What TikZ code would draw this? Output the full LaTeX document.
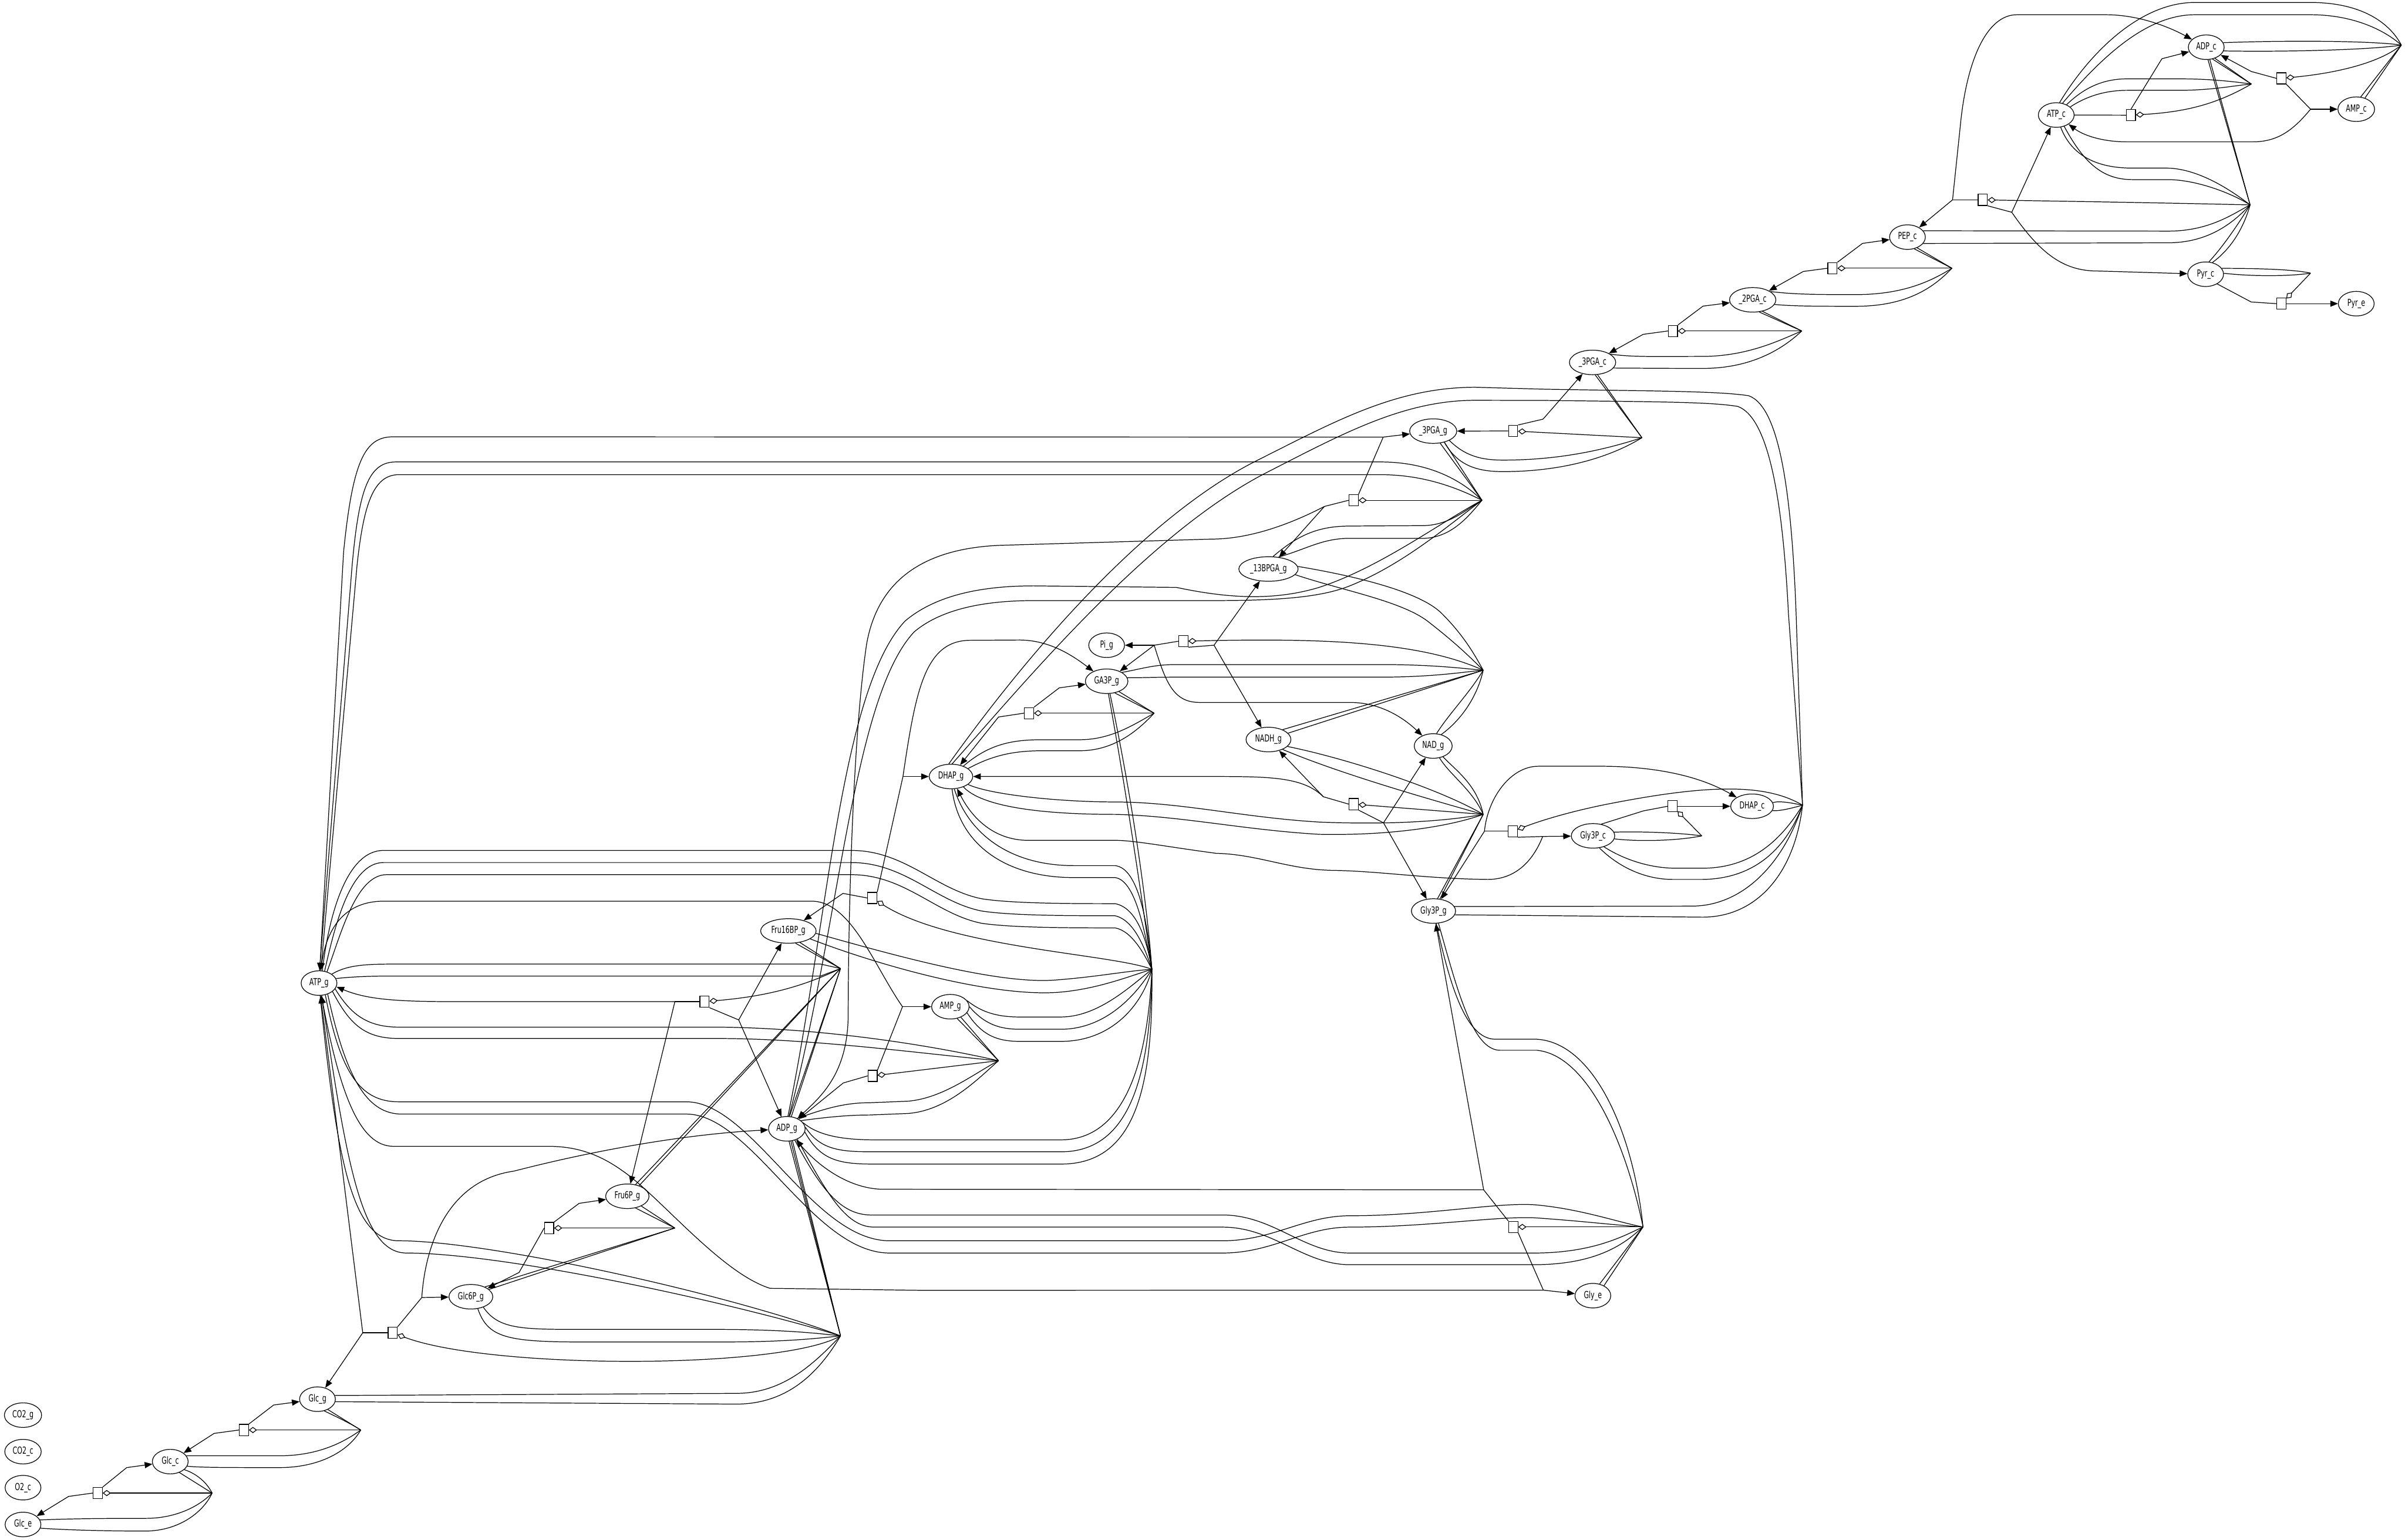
\documentclass[tikz,border=0pt]{standalone}
\usepackage{fontspec}
\newfontfamily\lblfont[FakeStretch=0.67]{DejaVu Sans}
\usetikzlibrary{shapes.geometric,arrows.meta}
\begin{document}
\begin{tikzpicture}[x=1.5pt,y=-1.5pt,line width=0.7pt,
  sp/.style={ellipse,draw,minimum height=24pt,minimum width=35pt,inner xsep=2.5pt,inner ysep=0pt,font=\lblfont\fontsize{9.5}{11}\selectfont},
  rx/.style={rectangle,draw,fill=white,minimum width=9pt,minimum height=11pt,inner sep=0pt},
  ed/.style={-{Triangle[length=7.5pt,width=6pt]}},
  md/.style={-{Diamond[open,length=8pt,width=6pt]}}]
\useasboundingbox (0,0) rectangle (1568,1004);
% ---------------- species
\node[sp] (Glce) at (15,994) {Glc\_e};
\node[sp] (O2c) at (15,970) {O2\_c};
\node[sp] (CO2c) at (15,946.5) {CO2\_c};
\node[sp] (CO2g) at (15,922.7) {CO2\_g};
\node[sp] (Glcc) at (111,953) {Glc\_c};
\node[sp] (Glcg) at (207,912.3) {Glc\_g};
\node[sp] (G6P) at (307,845.5) {Glc6P\_g};
\node[sp] (F6P) at (409,780) {Fru6P\_g};
\node[sp] (F16BP) at (514,607) {Fru16BP\_g};
\node[sp] (ATPg) at (208,641) {ATP\_g};
\node[sp] (ADPg) at (513,736) {ADP\_g};
\node[sp] (AMPg) at (619.6,656.4) {AMP\_g};
\node[sp] (DHAPg) at (620,506.3) {DHAP\_g};
\node[sp] (GA3Pg) at (721.5,444.2) {GA3P\_g};
\node[sp] (Pig) at (721.5,420.7) {Pi\_g};
\node[sp] (BPG) at (827,371) {\_13BPGA\_g};
\node[sp] (NADH) at (827,482.2) {NADH\_g};
\node[sp] (NAD) at (934.4,486.4) {NAD\_g};
\node[sp] (PGAg) at (934.4,281.1) {\_3PGA\_g};
\node[sp] (PGAc) at (1038.3,236.3) {\_3PGA\_c};
\node[sp] (PGA2) at (1142.7,195.5) {\_2PGA\_c};
\node[sp] (PEP) at (1243.6,154.6) {PEP\_c};
\node[sp] (ATPc) at (1340.6,75) {ATP\_c};
\node[sp] (ADPc) at (1438.4,30.8) {ADP\_c};
\node[sp] (AMPc) at (1536.2,71.2) {AMP\_c};
\node[sp] (Pyrc) at (1438,178.8) {Pyr\_c};
\node[sp] (Pyre) at (1536.2,198) {Pyr\_e};
\node[sp] (G3Pc) at (1038.6,545) {Gly3P\_c};
\node[sp] (DHAPc) at (1142.3,525.7) {DHAP\_c};
\node[sp] (G3Pg) at (934.6,594) {Gly3P\_g};
\node[sp] (Glye) at (1038.5,844.8) {Gly\_e};
% ---------------- reaction boxes
\node[rx] (r1) at (63.7,973.5) {};
\node[rx] (r2) at (159,932.4) {};
\node[rx] (rHK) at (256,869) {};
\node[rx] (rPGI) at (358,800.7) {};
\node[rx] (rPFK) at (459.3,653.1) {};
\node[rx] (rALD) at (568.7,585.5) {};
\node[rx] (rADK) at (568.9,701.5) {};
\node[rx] (rTPI) at (670.9,465) {};
\node[rx] (rGAPDH) at (771.5,418.1) {};
\node[rx] (rPGK) at (882.5,326.2) {};
\node[rx] (rG3PDH) at (882.5,524.3) {};
\node[rx] (rGK) at (986.6,800) {};
\node[rx] (rAP) at (986.3,542) {};
\node[rx] (rPGAT) at (986.5,281) {};
\node[rx] (rGPO) at (1090.5,525.7) {};
\node[rx] (rPGM) at (1090.7,215.8) {};
\node[rx] (rENO) at (1194.7,174.9) {};
\node[rx] (rPK) at (1292.7,130.3) {};
\node[rx] (rATPase) at (1389.3,75.1) {};
\node[rx] (rADKc) at (1487.4,51.1) {};
\node[rx] (rPyrT) at (1487.4,198) {};
% ---------------- modifier junctions
\coordinate (mR1) at (138.3,973.5);
\coordinate (mR2) at (235.2,932.4);
\coordinate (mHK) at (548,871);
\coordinate (mPGI) at (440,800.7);
\coordinate (mPFK) at (548,631.5);
\coordinate (mALD) at (751,632);
\coordinate (mADK) at (651,691.6);
\coordinate (mTPI) at (752.5,465);
\coordinate (mGAPDH) at (967,437);
\coordinate (mPGK) at (966.2,326.2);
\coordinate (mG3PDH) at (967,531);
\coordinate (mGK) at (1071.2,800);
\coordinate (mAP) at (1175.2,525);
\coordinate (mPGAT) at (1070.5,285.4);
\coordinate (mGPO) at (1109.5,545);
\coordinate (mPGM) at (1174.7,215.8);
\coordinate (mENO) at (1272.6,174.9);
\coordinate (mPK) at (1467,133.6);
\coordinate (mATPase) at (1467.8,54.8);
\coordinate (mADKc) at (1565.6,29.4);
\coordinate (mPyrT) at (1506.4,178.1);
% ================= R1 Glc e/c
\draw[ed] (r1.west) -- (44.7,975.7) -- (Glce);
\draw[ed] (r1.north east) -- (82.6,956.9) -- (Glcc);
\draw[md] (mR1) -- (r1);
\draw (Glcc.-50) -- (mR1);
\draw (Glcc.-30) .. controls (126,960) and (134,965) .. (mR1);
\draw (Glce.15) .. controls (50,990) and (80,990) .. (95,990) .. controls (115,990) and (130,982) .. (mR1);
\draw (Glce.-12) .. controls (50,998) and (80,998.3) .. (95,998.3) .. controls (118,998) and (133,985) .. (mR1);
% ================= R2 Glc c/g
\draw[ed] (r2.west) -- (139.6,934.6) -- (Glcc);
\draw[ed] (r2.north east) -- (178.4,916.1) -- (Glcg);
\draw[md] (mR2) -- (r2);
\draw (Glcg.-45) -- (mR2);
\draw (Glcg.-60) .. controls (222,925) and (230,929) .. (mR2);
\draw (Glcc.20) .. controls (130,949.2) and (150,949.2) .. (182,949.2) .. controls (205,949.2) and (222,942) .. (mR2);
\draw (Glcc.-15) .. controls (130,956.9) and (150,956.9) .. (182,956.9) .. controls (210,956.9) and (228,945) .. (mR2);
% ================= HK
\coordinate (hkL) at (236.5,869); \coordinate (hkR) at (275,846);
\draw (rHK.west) -- (hkL);
\draw[ed] (hkL) -- (Glcg);
\draw[ed] (hkL) -- (ATPg);
\draw (rHK.north east) -- (hkR);
\draw[ed] (hkR) -- (G6P);
\draw[ed] (hkR) .. controls (277,815) and (290,770) .. (335,763.6) .. controls (380,752) and (440,740) .. (ADPg);
\draw[md] (mHK) .. controls (510,893) and (320,893) .. (rHK);
\draw (Glcg.12) -- (480,908.5) .. controls (510,908.5) and (530,890) .. (mHK);
\draw (Glcg.-8) -- (480,915.5) .. controls (515,915.5) and (535,893) .. (mHK);
\draw (G6P.-40) .. controls (325,866.8) and (340,866.8) .. (380,866.8) -- (470,866.8) .. controls (510,867) and (530,869) .. (mHK);
\draw (G6P.-60) .. controls (318,872) and (330,875) .. (380,875) -- (470,875) .. controls (510,875) and (530,873) .. (mHK);
\draw (ATPg.-85) .. controls (220,760) and (230,809) .. (260,809) .. controls (320,809) and (480,845) .. (mHK);
\draw (ATPg.-78) .. controls (226,760) and (236,817) .. (265,817) .. controls (330,817) and (480,850) .. (mHK);
\draw (ADPg.-80) -- (mHK); \draw (ADPg.-72) -- (mHK); \draw (ADPg.-65) -- (mHK);
% ================= PGI
\coordinate (pgiL) at (338.4,829.7); \coordinate (pgiR) at (377.6,784.6);
\draw[ed] (rPGI.west) -- (pgiL) -- (G6P);
\draw[ed] (rPGI.north east) -- (pgiR) -- (F6P);
\draw[md] (mPGI) -- (rPGI);
\draw (F6P.-35) -- (mPGI); \draw (F6P.-55) -- (mPGI);
\draw (G6P.35) -- (mPGI); \draw (G6P.22) -- (mPGI);
% ================= PFK
\coordinate (pfkL) at (440,653.1); \coordinate (pfkR) at (481.6,665);
\draw (rPFK.west) -- (pfkL);
\draw[ed] (pfkL) -- (300,653.1) .. controls (260,653.1) and (240,652) .. (ATPg.-12);
\draw[ed] (pfkL) -- (F6P);
\draw (rPFK.south east) -- (pfkR);
\draw[ed] (pfkR) -- (F16BP);
\draw[ed] (pfkR) -- (ADPg);
\draw[md] (mPFK) .. controls (520,645) and (495,650) .. (rPFK);
\draw (ATPg.35) .. controls (225,630) and (235,628.6) .. (255,628.6) -- (535,628.6) -- (mPFK);
\draw (ATPg.15) .. controls (228,637) and (240,636.4) .. (255,636.4) -- (535,636.4) -- (mPFK);
\draw (F16BP.-45) -- (mPFK); \draw (F16BP.-60) -- (mPFK);
\draw (F6P.55) -- (mPFK); \draw (F6P.42) -- (mPFK);
\draw (ADPg.78) -- (mPFK); \draw (ADPg.70) -- (mPFK);
% ================= ALD
\coordinate (aldL) at (549.6,582.5); \coordinate (aldR) at (588.7,506.3);
\draw[ed] (rALD.west) -- (aldL) -- (F16BP);
\draw (rALD.north east) -- (aldR);
\draw[ed] (aldR) -- (DHAPg);
\draw[ed] (aldR) .. controls (597,450) and (603,418) .. (632,417.5) -- (665,417.3) .. controls (685,417.5) and (700,428) .. (GA3Pg);
\draw[md] (mALD) .. controls (725,622) and (620,618) .. (rALD);
\draw (F16BP.-5) .. controls (580,622) and (650,642) .. (688,639) .. controls (715,637) and (735,633) .. (mALD);
\draw (F16BP.-20) .. controls (580,632) and (650,650) .. (690,647) .. controls (715,645) and (735,637) .. (mALD);
\draw (GA3Pg.-82) .. controls (735,520) and (745,590) .. (mALD);
\draw (GA3Pg.-75) .. controls (738,520) and (748,590) .. (mALD);
\draw (DHAPg.-75) .. controls (632,545) and (660,564.4) .. (700,564.4) -- (727,564.4) .. controls (742,566) and (748,600) .. (mALD);
\draw (DHAPg.-85) .. controls (625,550) and (655,572.2) .. (700,572.2) -- (727,572.2) .. controls (740,574) and (746,605) .. (mALD);
\draw (ATPg.75) .. controls (214,600) and (225,554.5) .. (250,554.5) -- (555,554.5) .. controls (590,554.5) and (610,580) .. (640,586) .. controls (660,589.2) and (700,589.2) .. (727,589.2) .. controls (742,592) and (748,615) .. (mALD);
\draw (ATPg.65) .. controls (218,605) and (228,562.4) .. (250,562.4) -- (555,562.4) .. controls (590,562.4) and (610,588) .. (640,594) .. controls (660,597.1) and (700,597.1) .. (727,597.1) .. controls (740,600) and (747,620) .. (mALD);
\draw (ATPg.55) .. controls (222,610) and (232,570.3) .. (252,570.3) -- (555,570.3) .. controls (590,570.3) and (610,596) .. (640,602) .. controls (660,605) and (700,605) .. (727,605) .. controls (738,607) and (746,622) .. (mALD);
\draw (ADPg.20) .. controls (532,739) and (545,743.2) .. (570,743.2) -- (691.7,743.2) .. controls (730,743.2) and (748,700) .. (mALD);
\draw (ADPg.5) .. controls (535,750) and (548,751) .. (570,751) -- (691.7,751) .. controls (735,751) and (750,705) .. (mALD);
\draw (ADPg.-10) .. controls (535,757) and (548,759) .. (570,759) -- (691.7,759) .. controls (740,759) and (752,710) .. (mALD);
\draw (AMPg.20) .. controls (640,660) and (650,663.1) .. (665,663.1) -- (691.7,663.1) .. controls (715,663) and (735,645) .. (mALD);
\draw (AMPg.0) .. controls (642,668) and (652,671.1) .. (665,671.1) -- (691.7,671.1) .. controls (720,671) and (740,650) .. (mALD);
\draw (AMPg.-20) .. controls (640,675) and (650,679) .. (665,679) -- (691.7,679) .. controls (725,679) and (745,655) .. (mALD);
% ================= ADK glycosome
\coordinate (adkL) at (549.8,706.1); \coordinate (adkR) at (588.4,656.4);
\draw[ed] (rADK.west) -- (adkL) -- (ADPg);
\draw (rADK.north east) -- (adkR);
\draw[ed] (adkR) -- (AMPg);
\draw[ed] (adkR) .. controls (570,630) and (555,588) .. (529.6,587.6) -- (250,587.6) .. controls (225,587.6) and (213,605) .. (ATPg);
\draw[md] (mADK) -- (rADK);
\draw (AMPg.-60) -- (mADK); \draw (AMPg.-45) -- (mADK);
\draw (ADPg.45) .. controls (540,722) and (552,719) .. (567,719) -- (592,718) .. controls (615,716) and (635,700) .. (mADK);
\draw (ADPg.30) .. controls (542,728) and (555,727) .. (567,727) -- (592,726) .. controls (618,724) and (638,703) .. (mADK);
\draw (ATPg.-20) .. controls (228,660) and (238,669.7) .. (260,669.7) -- (466,669.7) .. controls (530,670) and (600,680) .. (mADK);
\draw (ATPg.-32) .. controls (228,668) and (238,677.1) .. (260,677.1) -- (466,677.1) .. controls (530,677) and (600,687) .. (mADK);
% ================= TPI
\coordinate (tpiL) at (651,467.5); \coordinate (tpiR) at (690.6,448.5);
\draw[ed] (rTPI.west) -- (tpiL) -- (DHAPg);
\draw[ed] (rTPI.north east) -- (tpiR) -- (GA3Pg);
\draw[md] (mTPI) -- (rTPI);
\draw (GA3Pg.-40) -- (mTPI); \draw (GA3Pg.-55) -- (mTPI);
\draw (DHAPg.40) .. controls (645,485) and (660,482.3) .. (680,482.3) -- (705,482.3) .. controls (725,482) and (740,472) .. (mTPI);
\draw (DHAPg.25) .. controls (648,492) and (662,489.5) .. (680,489.5) -- (705,489.5) .. controls (728,489) and (743,475) .. (mTPI);
% ================= GAPDH
\coordinate (gapL) at (752.5,420.7); \coordinate (gapR) at (791.5,420.7);
\draw (rGAPDH.west) -- (gapL);
\draw[ed] (gapL) -- (Pig);
\draw[ed] (gapL) -- (GA3Pg);
\draw[ed] (gapL) .. controls (760,445) and (765,458) .. (782,458) -- (880,458) .. controls (900,458) and (915,468) .. (NAD);
\draw (rGAPDH.south east) -- (gapR);
\draw[ed] (gapR) -- (BPG);
\draw[ed] (gapR) -- (NADH);
\draw[md] (mGAPDH) .. controls (925,418) and (860,416) .. (rGAPDH);
\draw (BPG.5) .. controls (880,375) and (925,385) .. (940,400) .. controls (955,415) and (962,428) .. (mGAPDH);
\draw (BPG.-12) .. controls (875,385) and (915,392) .. (932,406) .. controls (950,420) and (960,430) .. (mGAPDH);
\draw (GA3Pg.30) .. controls (745,436) and (752,433.3) .. (767,433.3) -- (900,433.3) .. controls (935,433.3) and (955,436) .. (mGAPDH);
\draw (GA3Pg.10) .. controls (745,442) and (752,441.5) .. (767,441.5) -- (900,441.5) .. controls (935,441.5) and (955,438) .. (mGAPDH);
\draw (NADH.35) -- (mGAPDH); \draw (NADH.18) -- (mGAPDH);
\draw (NAD.75) .. controls (945,465) and (958,452) .. (mGAPDH);
\draw (NAD.55) .. controls (952,470) and (963,455) .. (mGAPDH);
% ================= PGK
\coordinate (pgkL) at (863.5,330.2); \coordinate (pgkR) at (901.8,285);
\draw (rPGK.west) -- (pgkL);
\draw[ed] (pgkL) -- (BPG);
\draw[ed] (pgkL) .. controls (835,345) and (810,351.5) .. (790,351.5) -- (651,355.6) .. controls (600,358) and (572,380) .. (565,420) .. controls (556,480) and (553,600) .. (553,661) .. controls (553,700) and (535,715) .. (ADPg);
\draw (rPGK.north east) -- (pgkR);
\draw[ed] (pgkR) -- (PGAg);
\draw[ed] (pgkR) -- (256,284.8) .. controls (238,285) and (230,300) .. (224,360) -- (ATPg);
\draw[md] (mPGK) -- (rPGK);
\draw (PGAg.-60) -- (mPGK); \draw (PGAg.-45) -- (mPGK);
\draw (ATPg.88) -- (229.6,368.4) .. controls (234,320) and (240,301.2) .. (258,301.2) -- (900,301.2) .. controls (930,301.2) and (952,312) .. (mPGK);
\draw (ATPg.82) -- (232.8,368.4) .. controls (237,330) and (243,309.5) .. (260,309.5) -- (900,309.5) .. controls (928,309.5) and (950,318) .. (mPGK);
\draw (BPG.70) .. controls (845,350) and (858,343) .. (880,343) -- (929,342.7) .. controls (945,342) and (955,333) .. (mPGK);
\draw (BPG.50) .. controls (852,358) and (862,351) .. (880,351) -- (929,351) .. controls (947,350) and (958,336) .. (mPGK);
\draw (ADPg.85) .. controls (540,600) and (548,450) .. (590,405) .. controls (610,388) and (640,382) .. (674,382) -- (767,383) .. controls (800,390) and (830,392) .. (860,383) .. controls (900,370) and (940,340) .. (mPGK);
\draw (ADPg.80) .. controls (548,600) and (556,455) .. (596,412) .. controls (615,396) and (645,391.6) .. (674,391.6) -- (790,391.6) .. controls (830,391.6) and (860,390) .. (880,382) .. controls (915,368) and (945,342) .. (mPGK);
% ================= PGA transport
\coordinate (pgatR) at (1006,273.3);
\draw[ed] (rPGAT.west) -- (PGAg);
\draw (rPGAT.north east) -- (pgatR);
\draw[ed] (pgatR) -- (PGAc);
\draw[md] (mPGAT) -- (rPGAT);
\draw (PGAc.-78) -- (mPGAT); \draw (PGAc.-68) -- (mPGAT);
\draw (PGAg.-30) .. controls (955,297) and (965,300) .. (980,300) .. controls (1020,300) and (1050,292) .. (mPGAT);
\draw (PGAg.-45) .. controls (950,303) and (962,307.5) .. (980,307.5) .. controls (1025,307.5) and (1055,295) .. (mPGAT);
% ================= PGM
\coordinate (pgmL) at (1071.3,218); \coordinate (pgmR) at (1110.3,199.6);
\draw[ed] (rPGM.west) -- (pgmL) -- (PGAc);
\draw[ed] (rPGM.north east) -- (pgmR) -- (PGA2);
\draw[md] (mPGM) -- (rPGM);
\draw (PGA2.-62) -- (mPGM); \draw (PGA2.-50) -- (mPGM);
\draw (PGAc.25) .. controls (1065,233) and (1080,232.4) .. (1111,232.4) .. controls (1140,232) and (1160,222) .. (mPGM);
\draw (PGAc.-15) .. controls (1065,240) and (1080,240.2) .. (1111,240.2) .. controls (1145,240) and (1165,225) .. (mPGM);
% ================= ENO
\coordinate (enoL) at (1175.7,177); \coordinate (enoR) at (1214.3,158.7);
\draw[ed] (rENO.west) -- (enoL) -- (PGA2);
\draw[ed] (rENO.north east) -- (enoR) -- (PEP);
\draw[md] (mENO) -- (rENO);
\draw (PEP.-60) -- (mENO); \draw (PEP.-48) -- (mENO);
\draw (PGA2.25) .. controls (1170,192) and (1185,192.1) .. (1210,192.1) .. controls (1240,192) and (1258,184) .. (mENO);
\draw (PGA2.-12) .. controls (1170,199.7) and (1185,199.7) .. (1210,199.7) .. controls (1245,199.7) and (1262,186) .. (mENO);
% ================= PK
\coordinate (pkL) at (1273,130.3); \coordinate (pkR) at (1311.6,138.4);
\draw (rPK.west) -- (pkL);
\draw[ed] (pkL) -- (PEP);
\draw[ed] (pkL) -- (1278,82.6) .. controls (1282,40) and (1295,9.6) .. (1315,9.6) -- (1372.7,9.6) .. controls (1395,9.6) and (1415,18) .. (ADPc);
\draw (rPK.south east) -- (pkR);
\draw[ed] (pkR) -- (ATPc);
\draw[ed] (pkR) .. controls (1330,165) and (1345,176.7) .. (1367.4,176.7) -- (Pyrc);
\draw[md] (mPK) .. controls (1400,132) and (1330,131) .. (rPK);
\draw (ATPc.-70) .. controls (1350,100) and (1365,109.6) .. (1390,109.6) -- (1413,109.6) .. controls (1432,110) and (1452,122) .. (mPK);
\draw (ATPc.-55) .. controls (1358,105) and (1370,117.1) .. (1390,117.1) -- (1413,117.1) .. controls (1432,117.1) and (1455,126) .. (mPK);
\draw (ADPc.-82) -- (mPK); \draw (ADPc.-74) -- (mPK);
\draw (PEP.22) -- (1413.5,150.7) .. controls (1440,150.7) and (1455,140) .. (mPK);
\draw (PEP.-22) -- (1413.5,158.3) .. controls (1442,158.3) and (1458,143) .. (mPK);
\draw (Pyrc.75) .. controls (1450,160) and (1460,145) .. (mPK);
\draw (Pyrc.60) .. controls (1455,162) and (1463,148) .. (mPK);
% ================= ATPase (cytosol)
\coordinate (atpR) at (1409.5,38.3);
\draw (ATPc) -- (rATPase);
\draw (rATPase.north) -- (atpR);
\draw[ed] (atpR) -- (ADPc);
\draw[md] (mATPase) .. controls (1445,68) and (1425,73) .. (rATPase);
\draw (ATPc.45) .. controls (1358,58) and (1370,51.4) .. (1387,51.4) -- (1420,51.4) .. controls (1440,51.4) and (1455,53) .. (mATPase);
\draw (ATPc.30) .. controls (1360,63) and (1372,58.9) .. (1387,58.9) -- (1420,58.9) .. controls (1442,58.9) and (1455,56) .. (mATPase);
\draw (ADPc.-62) -- (mATPase); \draw (ADPc.-52) -- (mATPase);
% ================= ADK cytosol
\coordinate (adkcL) at (1467.7,46.6); \coordinate (adkcR) at (1506.4,71.2);
\draw[ed] (rADKc.west) -- (adkcL) -- (ADPc);
\draw (rADKc.south east) -- (adkcR);
\draw[ed] (adkcR) -- (AMPc);
\draw[ed] (adkcR) .. controls (1495,85) and (1485,92.5) .. (1468.5,92.5) -- (1387,92.5) .. controls (1370,92.5) and (1358,88) .. (ATPc);
\draw[md] (mADKc) .. controls (1550,42) and (1520,48) .. (rADKc);
\draw (ADPc.15) .. controls (1500,26) and (1550,27) .. (mADKc);
\draw (ADPc.-12) .. controls (1500,34) and (1550,32) .. (mADKc);
\draw (ATPc.75) .. controls (1362,35) and (1395,1.6) .. (1431,1.6) -- (1506,1.6) .. controls (1540,1.6) and (1558,15) .. (mADKc);
\draw (ATPc.62) .. controls (1368,40) and (1398,9.6) .. (1431,9.6) -- (1506,9.6) .. controls (1535,9.6) and (1555,20) .. (mADKc);
\draw (AMPc.70) -- (mADKc); \draw (AMPc.52) -- (mADKc);
% ================= Pyr transport
\coordinate (pyrL) at (1467.7,196.9);
\draw (Pyrc.-40) -- (pyrL) -- (rPyrT.west);
\draw[ed] (rPyrT.east) -- (Pyre);
\draw[md] (mPyrT) -- (rPyrT);
\draw (Pyrc.20) .. controls (1470,175) and (1495,175.5) .. (mPyrT);
\draw (Pyrc.3) .. controls (1470,180.5) and (1495,180) .. (mPyrT);
% ================= G3PDH
\coordinate (gpdL) at (862.8,519.5); \coordinate (gpdR) at (902,536.5);
\draw (rG3PDH.west) -- (gpdL);
\draw[ed] (gpdL) -- (NADH);
\draw[ed] (gpdL) .. controls (850,507) and (830,506.3) .. (793,506.3) -- (DHAPg);
\draw (rG3PDH.south east) -- (gpdR);
\draw[ed] (gpdR) -- (NAD);
\draw[ed] (gpdR) -- (G3Pg);
\draw[md] (mG3PDH) -- (rG3PDH);
\draw (NADH.-20) .. controls (880,495) and (940,515) .. (mG3PDH);
\draw (NADH.-35) .. controls (875,505) and (935,522) .. (mG3PDH);
\draw (NAD.-62) .. controls (945,505) and (960,515) .. (mG3PDH);
\draw (NAD.-48) .. controls (950,503) and (963,512) .. (mG3PDH);
\draw (DHAPg.-25) .. controls (645,518) and (690,522.9) .. (727,522.9) .. controls (770,523) and (810,533) .. (860,536) .. controls (910,538) and (945,535) .. (mG3PDH);
\draw (DHAPg.-40) .. controls (642,528) and (690,531) .. (727,531) .. controls (770,532) and (810,541) .. (860,544) .. controls (910,545) and (948,538) .. (mG3PDH);
\draw (G3Pg.72) -- (mG3PDH); \draw (G3Pg.62) -- (mG3PDH);
% ================= Gly3P/DHAP antiporter
\coordinate (apL) at (967.8,542); \coordinate (apR) at (1005.8,545.4);
\draw (rAP.west) -- (apL);
\draw[ed] (apL) -- (G3Pg);
\draw[ed] (apL) .. controls (970,520) and (985,499.6) .. (1003,499.6) -- (1046,499.6) .. controls (1080,500) and (1108,506) .. (DHAPc);
\draw (rAP.south east) -- (apR);
\draw[ed] (apR) -- (G3Pc);
\draw[ed] (apR) .. controls (998,565) and (985,573.4) .. (970,573.4) .. controls (930,573) and (900,568) .. (869,567.5) .. controls (840,567) and (820,557) .. (793,556.4) .. controls (760,552) and (740,548) .. (727,547.9) -- (668.6,547.9) .. controls (645,547) and (632,530) .. (DHAPg);
\draw[md] (mAP) .. controls (1150,510) and (1110,512) .. (1046,524.7) .. controls (1020,530) and (1002,536) .. (rAP);
\draw (DHAPc.10) .. controls (1160,522) and (1168,523.5) .. (mAP);
\draw (DHAPc.-12) .. controls (1160,529) and (1168,527) .. (mAP);
\draw (G3Pc.-45) .. controls (1058,560) and (1075,566.1) .. (1092.7,566.1) -- (1110,566.1) .. controls (1140,566) and (1160,550) .. (mAP);
\draw (G3Pc.-62) .. controls (1055,565) and (1072,573.4) .. (1090.6,573.4) -- (1110,573.4) .. controls (1145,573) and (1165,552) .. (mAP);
\draw (G3Pg.12) -- (1103,590.8) .. controls (1135,590.8) and (1162,565) .. (mAP);
\draw (G3Pg.-10) -- (1110,598) .. controls (1145,598) and (1170,570) .. (mAP);
\draw (DHAPg.100) .. controls (660,440) and (740,340) .. (820,300) .. controls (870,275) and (910,252.5) .. (961.8,252.5) -- (1008,253.8) .. controls (1080,255) and (1120,255) .. (1140,258) .. controls (1160,265) and (1168,320) .. (1171,400) -- (mAP);
\draw (DHAPg.85) .. controls (668,445) and (748,348) .. (826,308) .. controls (875,283) and (915,261) .. (961.8,261) -- (1008,261.1) .. controls (1080,262) and (1115,262) .. (1133,265) .. controls (1152,272) and (1162,320) .. (1166,400) -- (mAP);
% ================= Gly3P_c -> DHAP_c
\coordinate (gpoL) at (1071.5,528.7);
\draw (G3Pc.55) -- (gpoL) -- (rGPO.west);
\draw[ed] (rGPO.east) -- (DHAPc);
\draw[md] (mGPO) -- (rGPO);
\draw (G3Pc.10) .. controls (1070,542) and (1095,543) .. (mGPO);
\draw (G3Pc.-8) .. controls (1070,549) and (1095,548) .. (mGPO);
% ================= GK
\coordinate (gkL) at (967.3,775.8); \coordinate (gkR) at (1006.2,841.2);
\draw (rGK.north west) -- (gkL);
\draw[ed] (gkL) -- (G3Pg);
\draw[ed] (gkL) -- (575,775.4) .. controls (555,775) and (535,762) .. (ADPg);
\draw (rGK.south east) -- (gkR);
\draw[ed] (gkR) -- (Glye);
\draw[ed] (gkR) -- (600,841.3) -- (502,840) .. controls (470,830) and (430,780) .. (406,763.5) .. controls (390,752) and (375,747.4) .. (357,747.4) -- (256,747.4) .. controls (235,747) and (222,715) .. (ATPg);
\draw[md] (mGK) -- (rGK);
\draw (Glye.60) -- (mGK); \draw (Glye.42) -- (mGK);
\draw (G3Pg.-78) .. controls (945,640) and (955,677.6) .. (975,677.6) -- (1002,677.6) .. controls (1040,680) and (1065,740) .. (mGK);
\draw (G3Pg.-68) .. controls (950,645) and (960,684.8) .. (978,684.8) -- (1002,684.8) .. controls (1035,688) and (1060,745) .. (mGK);
\draw (ADPg.-55) .. controls (535,775) and (548,792.2) .. (568,792.2) -- (797,792.2) .. controls (830,792.2) and (850,817) .. (880,817) -- (1000,817) .. controls (1040,817) and (1060,805) .. (mGK);
\draw (ADPg.-45) .. controls (540,780) and (552,800.1) .. (570,800.1) -- (797,800.1) .. controls (830,800.1) and (850,824.6) .. (880,824.6) -- (1000,824.6) .. controls (1045,824.6) and (1062,808) .. (mGK);
\draw (ATPg.-62) .. controls (222,700) and (235,718.4) .. (260,718.4) -- (447.5,718.4) .. controls (490,718.4) and (530,809) .. (580,809) -- (797,809) .. controls (830,809) and (850,792.7) .. (880,792.7) .. controls (930,792.7) and (975,784) .. (1000,785.5) .. controls (1030,788) and (1055,797) .. (mGK);
\draw (ATPg.-52) .. controls (226,705) and (240,726.4) .. (262,726.4) -- (447.5,726.4) .. controls (490,726.4) and (530,817) .. (580,817) -- (797,817) .. controls (830,817) and (850,800.1) .. (880,800.1) .. controls (930,800.1) and (975,793) .. (1000,794) .. controls (1030,796) and (1055,799) .. (mGK);
\end{tikzpicture}
\end{document}
